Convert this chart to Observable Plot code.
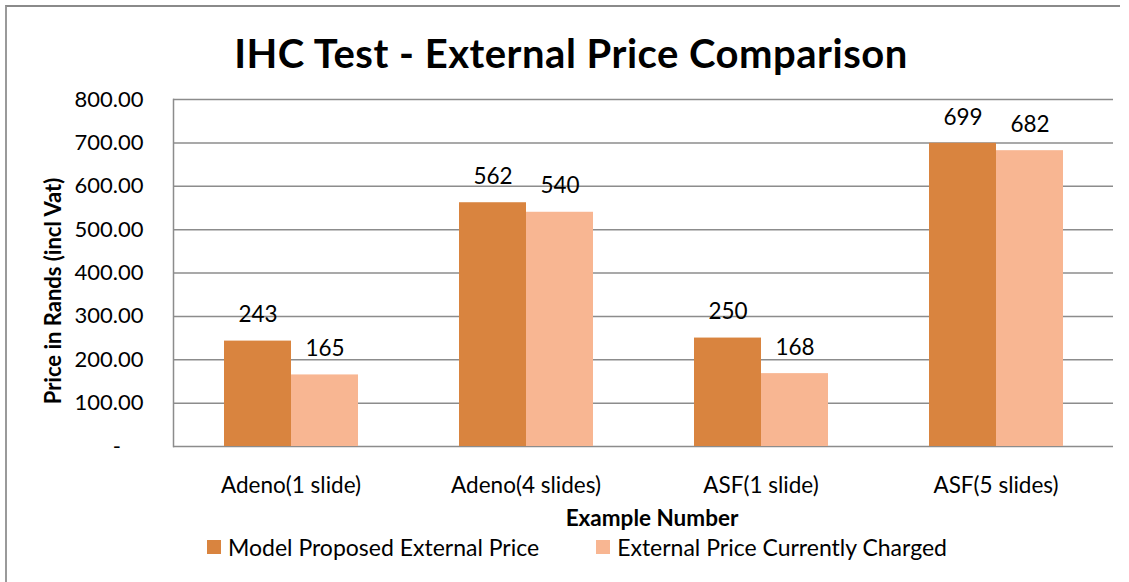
<!DOCTYPE html>
<html>
<head>
<meta charset="utf-8">
<script src="https://cdn.jsdelivr.net/npm/d3@7"></script>
<script src="https://cdn.jsdelivr.net/npm/@observablehq/plot@0.6"></script>
<style>
  html, body { margin: 0; padding: 0; background: #fff; }
  #wrap { position: relative; width: 1129px; height: 582px; overflow: hidden; font-family: Lato, "Open Sans", sans-serif; color: #000; }
  #border { position: absolute; left: 5px; top: 5px; width: 1115px; height: 600px; border-top: 2px solid #8a8a8a; border-left: 2px solid #9a9a9a; box-sizing: border-box; }
  #title { position: absolute; left: 571px; top: 53px; transform: translate(-50%, -50%); white-space: nowrap; font-weight: 700; font-size: 40px; letter-spacing: 0.5px; line-height: 48px; }
  #chart { position: absolute; left: 0; top: 80px; }
  #ylabel { position: absolute; left: 52px; top: 291px; transform: translate(-50%, -50%) rotate(-90deg); white-space: nowrap; font-weight: 700; font-size: 22px; }
  #xlabel { position: absolute; left: 652px; top: 517px; transform: translate(-50%, -50%); white-space: nowrap; font-weight: 700; font-size: 22.5px; }
  #legend { position: absolute; left: 207px; top: 547px; transform: translateY(-50%); display: flex; align-items: center; font-size: 23px; line-height: 28px; }
  .item { display: flex; align-items: center; margin-right: 57px; }
  .sw { width: 14px; height: 14px; margin-right: 7px; }
</style>
</head>
<body>
<div id="wrap">
  <div id="border"></div>
  <div id="title"></div>
  <div id="chart"></div>
  <div id="ylabel"></div>
  <div id="xlabel"></div>
  <div id="legend"></div>
</div>
<script>
const titleText = "IHC Test - External Price Comparison";
const yLabelText = "Price in Rands (incl Vat)";
const xLabelText = "Example Number";
const categories = ["Adeno(1 slide)", "Adeno(4 slides)", "ASF(1 slide)", "ASF(5 slides)"];
const series = ["Model Proposed External Price", "External Price Currently Charged"];
const modelPrices = [243, 562, 250, 699];
const currentPrices = [165, 540, 168, 682];
const yTicks = [0, 100, 200, 300, 400, 500, 600, 700, 800];
const colors = ["#D9843F", "#F8B692"];

const data = categories.flatMap((c, i) => [
  {category: c, series: series[0], value: modelPrices[i]},
  {category: c, series: series[1], value: currentPrices[i]}
]);

const grid = "#8c8c8c";

const chart = Plot.plot({
  width: 1129,
  height: 450,
  marginTop: 19,
  marginBottom: 84,
  marginLeft: 172,
  marginRight: 16,
  style: {fontFamily: "Lato, 'Open Sans', sans-serif", color: "#000", background: "transparent", overflow: "visible"},
  fx: {domain: categories, padding: 0, label: null},
  x: {domain: series, paddingInner: 0, paddingOuter: 0.74, axis: null},
  y: {domain: [0, 800], label: null},
  color: {domain: series, range: colors},
  marks: [
    Plot.ruleY(yTicks, {stroke: grid, strokeWidth: 1.5}),
    Plot.barY(data, {fx: "category", x: "series", y: "value", fill: "series"}),
    Plot.text(data, {fx: "category", x: "series", y: "value", text: d => String(d.value), dy: -26, fontSize: 22.5, fill: "#000"}),
    Plot.axisY({ticks: yTicks, tickSize: 0, tickPadding: 30, fontSize: 22, label: null,
      tickFormat: d => d === 0 ? "-\u00a0\u00a0\u00a0\u00a0" : d.toFixed(2)}),
    Plot.axisFx({anchor: "bottom", tickSize: 0, tickPadding: 31, fontSize: 22.5, label: null}),
    Plot.frame({anchor: "left", stroke: grid, strokeWidth: 1.5, facet: "super"})
  ]
});
document.getElementById("chart").appendChild(chart);

document.getElementById("title").textContent = titleText;
document.getElementById("ylabel").textContent = yLabelText;
document.getElementById("xlabel").textContent = xLabelText;
const legend = document.getElementById("legend");
series.forEach((s, i) => {
  const item = document.createElement("div");
  item.className = "item";
  const sw = document.createElement("div");
  sw.className = "sw";
  sw.style.background = colors[i];
  const label = document.createElement("span");
  label.textContent = s;
  item.appendChild(sw);
  item.appendChild(label);
  legend.appendChild(item);
});
</script>
</body>
</html>
